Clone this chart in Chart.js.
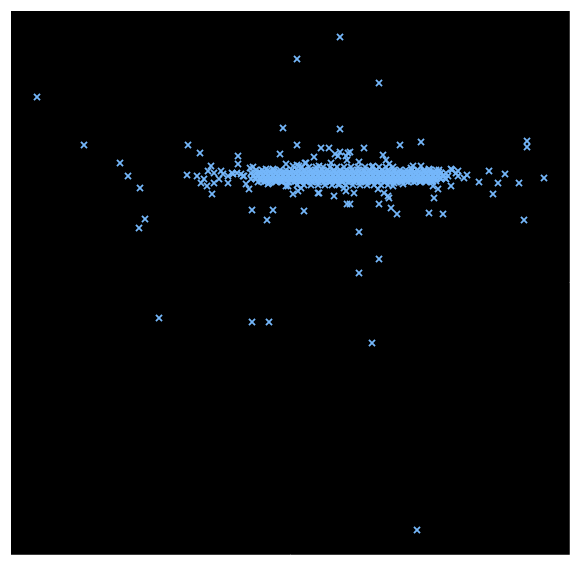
<!DOCTYPE html>
<html>
<head>
<meta charset="utf-8">
<script src="https://cdn.jsdelivr.net/npm/chart.js@4.4.1/dist/chart.umd.min.js"></script>
<style>
  html, body { margin: 0; padding: 0; background: #ffffff; }
  #wrap { width: 579px; height: 565px; }
</style>
</head>
<body>
<div id="wrap"><canvas id="c" width="579" height="565"></canvas></div>
<script>
// Scattered / peripheral points (x, y)
const outX = [25,72,108,116,128,133,127,147,240,257,285,328,367,271,328,347,367,347,360,405,
  176,188,240,255,261,292,409,388,515,515,532,512,507,493,486,481,477,467,455,452,
  431,417,422,426,385,379,367,338,335,352,317,309,285,175,185,196,199,195,200,226,
  226,268,302,274,285,294,202,209,216,220,229,234,237,202,207,211,221,231,216,256,
  274,281,286,289,307,326,322,334,323,328,338,335,347,371,374,377,361,401,409,417,
  439,444,446,342,366,376,381,391,409,421,439,382,419,399,412,427,440,446,406,332,
  372,377,241,254,261,281,287,293,307,319,326,334,336,238,257,276,287,306,268,232,
  225,192,189];
const outY = [458,410,392,379,367,336,327,237,233,233,496,518,472,427,426,323,296,282,212,25,
  410,402,345,335,345,344,413,410,414,408,377,335,372,381,372,361,384,373,380,377,
  341,342,357,366,341,347,351,351,351,407,407,407,410,380,379,384,389,369,361,399,
  391,401,398,391,390,392,382,384,379,382,381,371,366,372,376,381,381,379,372,371,
  369,361,364,367,362,371,359,364,401,403,403,395,393,400,395,391,389,389,389,386,
  386,382,379,362,366,359,369,371,374,369,369,372,374,387,384,385,385,384,376,367,
  362,357,388,386,386,389,389,392,389,392,399,399,402,387,372,369,374,362,374,379,
  382,376,372];

// Dense core band: one row of x values per y level
const bandLevels = [385, 382, 379, 376, 373, 388, 370, 383, 380, 377, 374];
const bandRows = [
  [244,250,256,262,268,274,280,286,292,298,304,310,316,322,328,334,340,346,352,358,364,370,376,382,388,394,400,406,412,418,424],
  [239,244,249,254,259,264,269,274,279,284,289,294,299,304,309,314,319,324,329,334,339,344,349,354,359,364,369,374,379,384,389,394,399,404,409,414,419,424,429,434],
  [241,246,251,256,261,266,271,276,281,286,291,296,301,306,311,316,321,326,331,336,341,346,351,356,361,366,371,376,381,386,391,396,401,406,411,416,421,426,431,436],
  [239,244,249,254,259,264,269,274,279,284,289,294,299,304,309,314,319,324,329,334,339,344,349,354,359,364,369,374,379,384,389,394,399,404,409,414,419,424,429,434],
  [246,252,258,264,270,276,282,288,294,300,306,312,318,324,330,336,342,348,354,360,366,372,378,384,390,396,402,408,414,420],
  [290,297,304,311,318,325,332,339,346,353,360,367,374,381],
  [285,292,299,306,313,320,327,334,341,348,355,362,369,376],
  [247,252,257,262,267,272,277,282,287,292,297,302,307,312,317,322,327,332,337,342,347,352,357,362,367,372,377,382,387,392,397,402,407,412,417,422,427],
  [242,247,252,257,262,267,272,277,282,287,292,297,302,307,312,317,322,327,332,337,342,347,352,357,362,367,372,377,382,387,392,397,402,407,412,417,422,427,432],
  [243,248,253,258,263,268,273,278,283,288,293,298,303,308,313,318,323,328,333,338,343,348,353,358,363,368,373,378,383,388,393,398,403,408,413,418,423,428,433],
  [249,254,259,264,269,274,279,284,289,294,299,304,309,314,319,324,329,334,339,344,349,354,359,364,369,374,379,384,389,394,399,404,409,414,419,424]
];

const points = [];
for (let i = 0; i < outX.length; i++) points.push({x: outX[i], y: outY[i]});
bandRows.forEach((row, r) => row.forEach(x => points.push({x: x, y: bandLevels[r]})));

const bgPlugin = {
  id: 'bg',
  beforeDraw(chart) {
    const {ctx, chartArea: a} = chart;
    ctx.save();
    ctx.fillStyle = '#000000';
    ctx.fillRect(a.left, a.top, a.right - a.left, a.bottom - a.top);
    ctx.strokeStyle = '#3c3c3c';
    ctx.lineWidth = 1;
    ctx.beginPath();
    ctx.moveTo(a.left, a.bottom + 0.5);
    ctx.lineTo(a.right + 0.5, a.bottom + 0.5);
    ctx.lineTo(a.right + 0.5, a.top);
    ctx.stroke();
    ctx.restore();
  }
};

new Chart(document.getElementById('c'), {
  type: 'scatter',
  data: {
    datasets: [{
      data: points,
      pointStyle: 'crossRot',
      pointRadius: 4.3,
      pointHoverRadius: 4.3,
      borderWidth: 1.8,
      borderColor: 'rgb(117,183,250)',
      backgroundColor: 'rgb(117,183,250)'
    }]
  },
  options: {
    responsive: false,
    devicePixelRatio: 1,
    animation: false,
    layout: { padding: { left: 11, top: 11, right: 10, bottom: 11 } },
    plugins: { legend: { display: false }, tooltip: { enabled: false } },
    scales: {
      x: { display: false, min: -1, max: 557 },
      y: { display: false, min: 1, max: 544 }
    }
  },
  plugins: [bgPlugin]
});
</script>
</body>
</html>
